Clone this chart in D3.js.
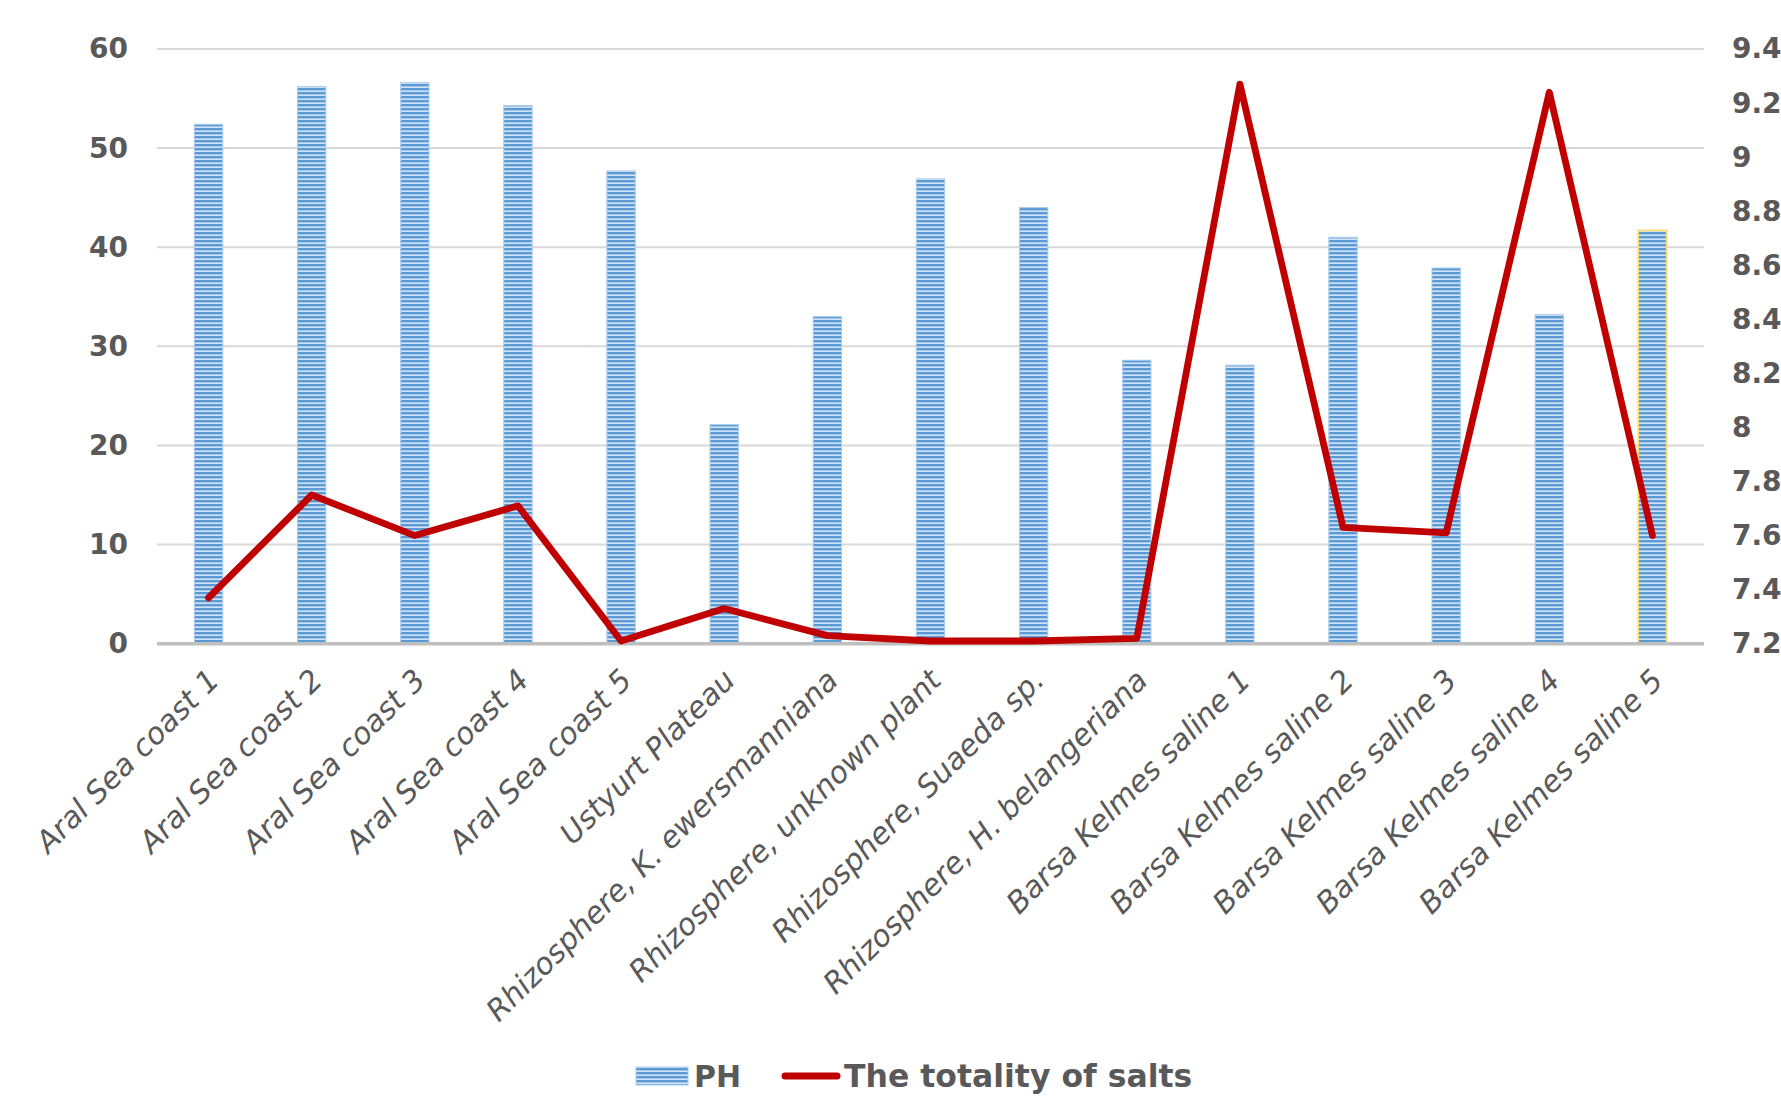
<!DOCTYPE html>
<html>
<head>
<meta charset="utf-8">
<script src="https://cdn.jsdelivr.net/npm/d3@7"></script>
<style>
  html, body { margin: 0; padding: 0; background: #ffffff; }
  svg { display: block; }
</style>
</head>
<body>
<svg id="chart" width="1781" height="1097"></svg>
<script>
// Sampling sites
const categories = [
  "Aral Sea coast 1", "Aral Sea coast 2", "Aral Sea coast 3", "Aral Sea coast 4",
  "Aral Sea coast 5", "Ustyurt Plateau", "Rhizosphere, K. ewersmanniana",
  "Rhizosphere, unknown plant", "Rhizosphere, Suaeda sp.", "Rhizosphere, H. belangeriana",
  "Barsa Kelmes saline 1", "Barsa Kelmes saline 2", "Barsa Kelmes saline 3",
  "Barsa Kelmes saline 4", "Barsa Kelmes saline 5"
];

// Column series (left axis)
const phValues = [52.4, 56.2, 56.6, 54.3, 47.7, 22.1, 33.0, 46.9, 44.0, 28.6, 28.1, 41.0, 37.9, 33.2, 41.7];

// Line series (right axis)
const saltValues = [7.37, 7.75, 7.60, 7.71, 7.21, 7.33, 7.23, 7.21, 7.21, 7.22, 9.27, 7.63, 7.61, 9.24, 7.60];

// Axis ticks
const leftTicks = [0, 10, 20, 30, 40, 50, 60];
const rightTicks = [7.2, 7.4, 7.6, 7.8, 8, 8.2, 8.4, 8.6, 8.8, 9, 9.2, 9.4];

// Series names
const seriesNames = ["PH", "The totality of salts"];

const svg = d3.select("#chart");
const plot = { left: 157, right: 1704, top: 49, bottom: 643.7 };
const textColor = "#595959";
const fontFamily = "'DejaVu Sans', Verdana, sans-serif";

const x = d3.scaleBand().domain(categories).range([plot.left, plot.right]).padding(0);
const yL = d3.scaleLinear().domain([0, 60]).range([plot.bottom, plot.top]);
const yR = d3.scaleLinear().domain([7.2, 9.4]).range([plot.bottom, plot.top]);

// Narrow horizontal stripe fill for the columns
const defs = svg.append("defs");
const pat = defs.append("pattern")
  .attr("id", "hstripe")
  .attr("patternUnits", "userSpaceOnUse")
  .attr("width", 8).attr("height", 4);
pat.append("rect").attr("x", 0).attr("y", 0).attr("width", 8).attr("height", 4).attr("fill", "#d2e3f5");
pat.append("rect").attr("x", 0).attr("y", 0).attr("width", 8).attr("height", 2).attr("fill", "#5b9bd5");
pat.append("rect").attr("x", 0).attr("y", 2).attr("width", 8).attr("height", 1).attr("fill", "#a3c6ea");

// Horizontal gridlines
svg.append("g")
  .selectAll("line")
  .data(leftTicks.filter(d => d !== 0))
  .join("line")
  .attr("x1", plot.left).attr("x2", plot.right)
  .attr("y1", d => yL(d)).attr("y2", d => yL(d))
  .attr("stroke", "#d9d9d9").attr("stroke-width", 2);

// Columns
const bw = x.bandwidth() * 0.275;
svg.append("g")
  .selectAll("rect")
  .data(phValues)
  .join("rect")
  .attr("x", (d, i) => x(categories[i]) + (x.bandwidth() - bw) / 2)
  .attr("y", d => yL(d))
  .attr("width", bw)
  .attr("height", d => yL(0) - yL(d))
  .attr("fill", "url(#hstripe)")
  .attr("stroke", (d, i) => i === categories.length - 1 ? "#ffd966" : "#a9cbec")
  .attr("stroke-width", (d, i) => i === categories.length - 1 ? 1.6 : 1);

// Category axis line
svg.append("line")
  .attr("x1", plot.left).attr("x2", plot.right)
  .attr("y1", yL(0)).attr("y2", yL(0))
  .attr("stroke", "#bfbfbf").attr("stroke-width", 3.6);

// Salts line
const line = d3.line()
  .x((d, i) => x(categories[i]) + x.bandwidth() / 2)
  .y(d => yR(d));
svg.append("path")
  .datum(saltValues)
  .attr("d", line)
  .attr("fill", "none")
  .attr("stroke", "#c00000")
  .attr("stroke-width", 6.8)
  .attr("stroke-linejoin", "round")
  .attr("stroke-linecap", "round");

// Left value axis labels
const axL = svg.append("g")
  .attr("transform", `translate(${plot.left - 29},0)`)
  .call(d3.axisLeft(yL).tickValues(leftTicks).tickSize(0).tickPadding(0).tickFormat(d3.format("d")));
axL.select(".domain").remove();
axL.selectAll("text")
  .attr("fill", textColor)
  .attr("font-family", fontFamily)
  .attr("font-weight", "bold")
  .attr("font-size", 28);

// Right value axis labels
const axR = svg.append("g")
  .attr("transform", `translate(${plot.right + 28},0)`)
  .call(d3.axisRight(yR).tickValues(rightTicks).tickSize(0).tickPadding(0).tickFormat(d3.format("~g")));
axR.select(".domain").remove();
axR.selectAll("text")
  .attr("fill", textColor)
  .attr("font-family", fontFamily)
  .attr("font-weight", "bold")
  .attr("font-size", 28);

// Rotated category labels
svg.append("g")
  .selectAll("text")
  .data(categories)
  .join("text")
  .attr("transform", d => `translate(${x(d) + x.bandwidth() / 2 + 5},${plot.bottom + 31}) rotate(-45)`)
  .attr("text-anchor", "end")
  .attr("dy", "0.35em")
  .attr("fill", textColor)
  .attr("font-family", fontFamily)
  .attr("font-style", "italic")
  .attr("font-size", 30)
  .text(d => d);

// Legend
const legend = svg.append("g").attr("transform", "translate(0,1076)");
legend.append("rect")
  .attr("x", 636).attr("y", -9).attr("width", 52).attr("height", 18)
  .attr("fill", "url(#hstripe)")
  .attr("stroke", "#a9cbec").attr("stroke-width", 1);
legend.append("text")
  .attr("x", 694).attr("y", 0).attr("dy", "0.36em")
  .attr("fill", textColor).attr("font-family", fontFamily)
  .attr("font-weight", "bold").attr("font-size", 30)
  .text(seriesNames[0]);
legend.append("line")
  .attr("x1", 785).attr("x2", 837).attr("y1", 0).attr("y2", 0)
  .attr("stroke", "#c00000").attr("stroke-width", 7).attr("stroke-linecap", "round");
legend.append("text")
  .attr("x", 844).attr("y", 0).attr("dy", "0.36em")
  .attr("fill", textColor).attr("font-family", fontFamily)
  .attr("font-weight", "bold").attr("font-size", 31.5)
  .text(seriesNames[1]);
</script>
</body>
</html>
